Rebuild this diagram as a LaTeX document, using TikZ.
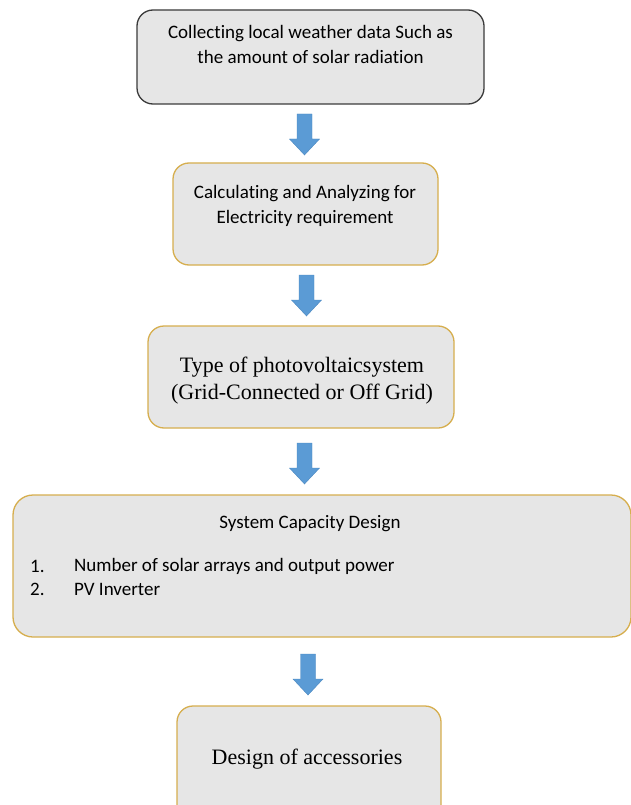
\documentclass[tikz,border=0pt]{standalone}
\usepackage{fontspec}
\setmainfont{Liberation Serif}
\newfontfamily\calib[Ligatures=NoCommon]{Carlito}
\definecolor{boxfill}{HTML}{E6E6E6}
\definecolor{gold}{HTML}{D6AE4E}
\definecolor{darkline}{HTML}{3A3A3A}
\definecolor{arrowblue}{HTML}{5B9BD5}
\definecolor{arrowedge}{HTML}{4A87C0}
\tikzset{
  x=1pt,y=-1pt,
  goldbox/.style={draw=gold, fill=boxfill, line width=1.3pt, rounded corners=16pt},
  darkbox/.style={draw=darkline, fill=boxfill, line width=1.3pt, rounded corners=16pt},
  sanstext/.style={font=\calib\fontsize{19}{25}\selectfont, text=black, inner sep=0pt, align=center},
  seriftext/.style={font=\fontsize{22}{27}\selectfont, text=black, inner sep=0pt, align=center},
  fatarrow/.pic={
    \path[fill=arrowblue, draw=arrowedge, line width=0.4pt]
      (-7.5,0) -- (7.5,0) -- (7.5,25) -- (15,25) -- (0,41) -- (-15,25) -- (-7.5,25) -- cycle;
  }
}
\begin{document}
\begin{tikzpicture}
\useasboundingbox (0,0) rectangle (631,805);
\begin{scope}
\clip (0,0) rectangle (631,805);
% boxes
\path[darkbox] (137,10) rectangle (484,104);
\coordinate (b1s) at (304.5,104);
\path[goldbox] (173,163) rectangle (438,265);
\coordinate (b2s) at (306.5,265);
\path[goldbox] (148,326) rectangle (454,428);
\coordinate (b3s) at (304.5,428);
\path[goldbox, rounded corners=20pt] (13,495) rectangle (631,637);
\coordinate (b4s) at (308,637);
\path[goldbox] (177,706) rectangle (441,830);
% texts
\node[sanstext] (t1) at (310.5,44.5) {Collecting local weather data Such as\\the amount of solar radiation};
\node[sanstext] (t2) at (305,206) {Calculating and Analyzing for\\Electricity requirement};
\node[seriftext] (t3) at (302,381) {Type of photovoltaicsystem\\(Grid-Connected or Off Grid)};
\node[sanstext] (t4) at (310,524) {System Capacity Design};
\node[sanstext, anchor=west] (n1) at (30,566.5) {1.};
\node[sanstext, anchor=west] (l1) at (74,566.5) {Number of solar arrays and output power};
\node[sanstext, anchor=west] (n2) at (30,589.5) {2.};
\node[sanstext, anchor=west] (l2) at (74,589.5) {PV Inverter};
\node[seriftext] (t5) at (307,759) {Design of accessories};
% arrows
\path (b1s) ++(0,10) pic {fatarrow};
\path (b2s) ++(0,10) pic {fatarrow};
\path (b3s) ++(0,15) pic {fatarrow};
\path (b4s) ++(0,17) pic {fatarrow};
\end{scope}
\end{tikzpicture}
\end{document}
